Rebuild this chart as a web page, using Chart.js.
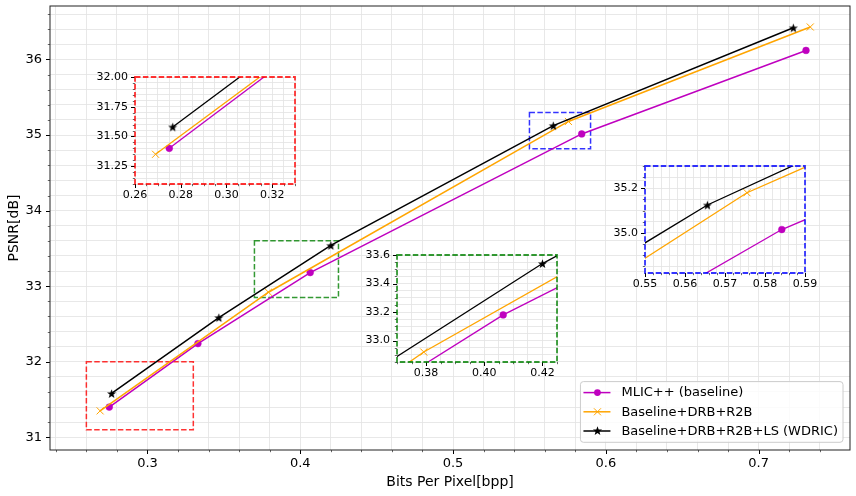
<!DOCTYPE html>
<html>
<head>
<meta charset="utf-8">
<title>PSNR vs Bits Per Pixel</title>
<script src="https://cdn.jsdelivr.net/npm/chart.js@4/dist/chart.umd.min.js"></script>
<style>
    html, body { margin: 0; padding: 0; background: #fff; }
    #wrap { position: relative; width: 856px; height: 496px; overflow: hidden; }
    #wrap canvas { position: absolute; }
</style>
</head>
<body>
<div id="wrap">
    <canvas id="mainChart"></canvas>
    <canvas id="insetRed"></canvas>
    <canvas id="insetGreen"></canvas>
    <canvas id="insetBlue"></canvas>
</div>
<script>
'use strict';

// ---- data ----
var seriesLabels = ['MLIC++ (baseline)', 'Baseline+DRB+R2B', 'Baseline+DRB+R2B+LS (WDRIC)'];

var mlicBpp = [0.275, 0.333, 0.4065, 0.5842, 0.731];
var mlicPsnr = [31.40, 32.24, 33.18, 35.015, 36.12];

var drbBpp = [0.269, 0.3792, 0.5755, 0.7338];
var drbPsnr = [31.35, 32.92, 35.18, 36.43];

var wdricBpp = [0.2765, 0.3467, 0.420, 0.5656, 0.7227];
var wdricPsnr = [31.58, 32.585, 33.54, 35.125, 36.42];

// main axes
var mainXRange = [0.2362, 0.7598];
var mainYRange = [30.832, 36.708];
var mainXTicks = [0.3, 0.4, 0.5, 0.6, 0.7];
var mainXLabels = ['0.3', '0.4', '0.5', '0.6', '0.7'];
var mainYTicks = [31, 32, 33, 34, 35, 36];
var mainYLabels = ['31', '32', '33', '34', '35', '36'];

// zoom windows: [xmin, xmax, ymin, ymax]
var redWindow = [0.26, 0.33, 31.1, 32.0];
var greenWindow = [0.37, 0.425, 32.85, 33.6];
var blueWindow = [0.55, 0.59, 34.82, 35.3];

var redXTicks = [0.26, 0.28, 0.30, 0.32];
var redXLabels = ['0.26', '0.28', '0.30', '0.32'];
var redYTicks = [31.25, 31.5, 31.75, 32.0];
var redYLabels = ['31.25', '31.50', '31.75', '32.00'];

var greenXTicks = [0.38, 0.40, 0.42];
var greenXLabels = ['0.38', '0.40', '0.42'];
var greenYTicks = [33.0, 33.2, 33.4, 33.6];
var greenYLabels = ['33.0', '33.2', '33.4', '33.6'];

var blueXTicks = [0.55, 0.56, 0.57, 0.58, 0.59];
var blueXLabels = ['0.55', '0.56', '0.57', '0.58', '0.59'];
var blueYTicks = [35.0, 35.2];
var blueYLabels = ['35.0', '35.2'];

// ---- styling ----
var FONT = 'DejaVu Sans';
var MAGENTA = '#bf00bf';
var ORANGE = '#ffa500';
var GRID = '#e2e2e2';

// little filled star, used as the point style of the WDRIC line
function starPath(ctx, cx, cy, outer, inner) {
    ctx.beginPath();
    for (var i = 0; i < 10; i++) {
        var r = (i % 2 === 0) ? outer : inner;
        var a = -Math.PI / 2 + i * Math.PI / 5;
        var px = cx + r * Math.cos(a);
        var py = cy + r * Math.sin(a);
        if (i === 0) {
            ctx.moveTo(px, py);
        } else {
            ctx.lineTo(px, py);
        }
    }
    ctx.closePath();
}

var starImage = (function() {
    var c = document.createElement('canvas');
    c.width = 11;
    c.height = 11;
    var g = c.getContext('2d');
    g.fillStyle = '#000';
    starPath(g, 5.5, 6, 4.8, 2);
    g.fill();
    return c;
})();

function points(xs, ys) {
    return xs.map(function(x, i) {
        return { x: x, y: ys[i] };
    });
}

function buildDatasets(lineWidth) {
    return [{
        label: seriesLabels[0],
        data: points(mlicBpp, mlicPsnr),
        borderColor: MAGENTA,
        backgroundColor: MAGENTA,
        borderWidth: lineWidth,
        pointStyle: 'circle',
        pointRadius: 3.4,
        pointBorderWidth: 0.5,
        order: 3
    }, {
        label: seriesLabels[1],
        data: points(drbBpp, drbPsnr),
        borderColor: ORANGE,
        backgroundColor: ORANGE,
        borderWidth: lineWidth,
        pointStyle: 'crossRot',
        pointRadius: 5,
        pointBorderWidth: 1,
        order: 2
    }, {
        label: seriesLabels[2],
        data: points(wdricBpp, wdricPsnr),
        borderColor: '#000',
        backgroundColor: '#000',
        borderWidth: lineWidth,
        pointStyle: starImage,
        pointRadius: 4,
        order: 1
    }];
}

// all tick positions (major + minor) between min and max
function stepValues(min, max, step) {
    var out = [];
    for (var k = Math.ceil(min / step - 1e-9); k * step <= max + 1e-9; k++) {
        out.push(+(k * step).toFixed(6));
    }
    return out;
}

function labelFor(value, majors, labels) {
    for (var i = 0; i < majors.length; i++) {
        if (Math.abs(majors[i] - value) < 1e-7) {
            return labels[i];
        }
    }
    return '';
}

function linearAxis(cfg) {
    var values = stepValues(cfg.min, cfg.max, cfg.minor);
    var axis = {
        type: 'linear',
        position: cfg.position,
        min: cfg.min,
        max: cfg.max,
        border: { display: false },
        grid: { color: GRID, lineWidth: 0.8, drawTicks: false },
        ticks: {
            autoSkip: false,
            maxRotation: 0,
            padding: cfg.padding,
            color: '#000',
            font: { family: FONT, size: cfg.fontSize },
            callback: function(value) {
                return labelFor(value, cfg.majors, cfg.labels);
            }
        },
        afterBuildTicks: function(scale) {
            scale.ticks = values.map(function(v) {
                return { value: v };
            });
        },
        afterFit: function(scale) {
            if (cfg.position === 'left') {
                scale.width = cfg.size;
            } else {
                scale.height = cfg.size;
            }
            scale.paddingLeft = 0;
            scale.paddingRight = 0;
            scale.paddingTop = 0;
            scale.paddingBottom = 0;
        }
    };
    if (cfg.title) {
        axis.title = {
            display: true,
            text: cfg.title,
            color: '#000',
            font: { family: FONT, size: 14 },
            padding: cfg.titlePadding
        };
    }
    return axis;
}

// draws the frame, the tick marks and (main only) the zoom boxes and legend
function decorPlugin(opts) {
    function line(ctx, x1, y1, x2, y2) {
        ctx.beginPath();
        ctx.moveTo(x1, y1);
        ctx.lineTo(x2, y2);
        ctx.stroke();
    }

    return {
        id: 'decor',
        beforeDraw: function(chart) {
            var a = chart.chartArea;
            var ctx = chart.ctx;
            ctx.save();
            ctx.fillStyle = '#fff';
            ctx.fillRect(a.left, a.top, a.right - a.left, a.bottom - a.top);
            ctx.restore();
        },
        beforeDatasetsDraw: function(chart) {
            if (!opts.boxes) {
                return;
            }
            var ctx = chart.ctx;
            var xs = chart.scales.x;
            var ys = chart.scales.y;
            ctx.save();
            ctx.lineWidth = 1.5;
            ctx.setLineDash([5.5, 2.4]);
            opts.boxes.forEach(function(b) {
                var x1 = xs.getPixelForValue(b.win[0]);
                var x2 = xs.getPixelForValue(b.win[1]);
                var y1 = ys.getPixelForValue(b.win[3]);
                var y2 = ys.getPixelForValue(b.win[2]);
                ctx.strokeStyle = b.color;
                ctx.strokeRect(x1, y1, x2 - x1, y2 - y1);
            });
            ctx.restore();
        },
        afterDatasetsDraw: function(chart) {
            var ctx = chart.ctx;
            var a = chart.chartArea;
            var xs = chart.scales.x;
            var ys = chart.scales.y;

            ctx.save();
            // tick marks
            ctx.strokeStyle = '#000';
            ctx.lineWidth = 0.6;
            stepValues(xs.min, xs.max, opts.xMinor).forEach(function(v) {
                var px = Math.round(xs.getPixelForValue(v)) + 0.5;
                line(ctx, px, a.bottom, px, a.bottom + 2.2);
            });
            stepValues(ys.min, ys.max, opts.yMinor).forEach(function(v) {
                var py = Math.round(ys.getPixelForValue(v)) + 0.5;
                line(ctx, a.left, py, a.left - 2.2, py);
            });
            ctx.lineWidth = 1;
            opts.xMajor.forEach(function(v) {
                var px = Math.round(xs.getPixelForValue(v)) + 0.5;
                line(ctx, px, a.bottom, px, a.bottom + 4);
            });
            opts.yMajor.forEach(function(v) {
                var py = Math.round(ys.getPixelForValue(v)) + 0.5;
                line(ctx, a.left, py, a.left - 4, py);
            });

            // frame
            if (opts.frameColor) {
                ctx.strokeStyle = opts.frameColor;
                ctx.lineWidth = 1.8;
                ctx.setLineDash([5.5, 2.4]);
            } else {
                ctx.strokeStyle = '#222';
                ctx.lineWidth = 1;
            }
            ctx.strokeRect(a.left, a.top, a.right - a.left, a.bottom - a.top);
            ctx.restore();
        },
        afterDraw: function(chart) {
            if (opts.legend) {
                drawLegend(chart);
            }
        }
    };
}

function drawLegend(chart) {
    var ctx = chart.ctx;
    var a = chart.chartArea;
    var rowH = 19.2;
    ctx.save();
    ctx.font = '13px "' + FONT + '"';
    var textW = 0;
    seriesLabels.forEach(function(t) {
        textW = Math.max(textW, ctx.measureText(t).width);
    });
    var w = 41 + textW + 5;
    var h = 22.3 + rowH * (seriesLabels.length - 1);
    var right = a.right - 7;
    var bottom = a.bottom - 7.7;
    var left = right - w;
    var top = bottom - h;

    ctx.beginPath();
    ctx.roundRect(left, top, w, h, 3);
    ctx.fillStyle = 'rgba(255,255,255,0.8)';
    ctx.fill();
    ctx.strokeStyle = '#cccccc';
    ctx.lineWidth = 1;
    ctx.stroke();

    var colors = [MAGENTA, ORANGE, '#000'];
    ctx.textBaseline = 'middle';
    for (var i = 0; i < seriesLabels.length; i++) {
        var y = top + 11 + i * rowH;
        var mx = left + 17;
        ctx.strokeStyle = colors[i];
        ctx.fillStyle = colors[i];
        ctx.lineWidth = 1.5;
        ctx.beginPath();
        ctx.moveTo(left + 3, y);
        ctx.lineTo(left + 30, y);
        ctx.stroke();
        if (i === 0) {
            ctx.beginPath();
            ctx.arc(mx, y, 3.4, 0, Math.PI * 2);
            ctx.fill();
        } else if (i === 1) {
            ctx.lineWidth = 1;
            ctx.beginPath();
            ctx.moveTo(mx - 3.5, y - 3.5);
            ctx.lineTo(mx + 3.5, y + 3.5);
            ctx.moveTo(mx - 3.5, y + 3.5);
            ctx.lineTo(mx + 3.5, y - 3.5);
            ctx.stroke();
        } else {
            ctx.drawImage(starImage, mx - 5.5, y - 6);
        }
        ctx.fillStyle = '#000';
        ctx.fillText(seriesLabels[i], left + 41, y + 0.5);
    }
    ctx.restore();
}

function placeCanvas(id, left, top, width, height) {
    var c = document.getElementById(id);
    c.width = width;
    c.height = height;
    c.style.left = left + 'px';
    c.style.top = top + 'px';
    c.style.width = width + 'px';
    c.style.height = height + 'px';
    return c;
}

// ---- main chart ----
function initMain() {
    var c = placeCanvas('mainChart', 0, 0, 856, 496);
    new Chart(c, {
        type: 'scatter',
        data: { datasets: buildDatasets(1.5) },
        options: {
            responsive: false,
            animation: false,
            showLine: true,
            layout: { padding: { left: 0, top: 6, right: 6, bottom: 0 } },
            plugins: { legend: { display: false }, tooltip: { enabled: false } },
            scales: {
                x: linearAxis({
                    position: 'bottom', min: mainXRange[0], max: mainXRange[1], minor: 0.02,
                    majors: mainXTicks, labels: mainXLabels, size: 46, padding: 6, fontSize: 13,
                    title: 'Bits Per Pixel[bpp]', titlePadding: { top: 0, bottom: 5 }
                }),
                y: linearAxis({
                    position: 'left', min: mainYRange[0], max: mainYRange[1], minor: 0.2,
                    majors: mainYTicks, labels: mainYLabels, size: 50, padding: 8, fontSize: 13,
                    title: 'PSNR[dB]', titlePadding: { top: 5.5, bottom: 0 }
                })
            }
        },
        plugins: [decorPlugin({
            xMajor: mainXTicks, yMajor: mainYTicks, xMinor: 0.02, yMinor: 0.2,
            legend: true,
            boxes: [
                { win: redWindow, color: 'rgba(255,0,0,0.8)' },
                { win: greenWindow, color: 'rgba(0,128,0,0.8)' },
                { win: blueWindow, color: 'rgba(0,0,255,0.8)' }
            ]
        })]
    });
}

// ---- zoomed insets ----
function initInset(cfg) {
    var padTop = 8, padRight = 16, yW = 50, xH = 24;
    var c = placeCanvas(cfg.id, cfg.left - yW, cfg.top - padTop,
        yW + cfg.width + padRight, padTop + cfg.height + xH);
    new Chart(c, {
        type: 'scatter',
        data: { datasets: buildDatasets(1.3) },
        options: {
            responsive: false,
            animation: false,
            showLine: true,
            layout: { padding: { left: 0, top: padTop, right: padRight, bottom: 0 } },
            plugins: { legend: { display: false }, tooltip: { enabled: false } },
            scales: {
                x: linearAxis({
                    position: 'bottom', min: cfg.win[0], max: cfg.win[1], minor: cfg.xMinor,
                    majors: cfg.xTicks, labels: cfg.xLabels, size: xH, padding: 5, fontSize: 11
                }),
                y: linearAxis({
                    position: 'left', min: cfg.win[2], max: cfg.win[3], minor: cfg.yMinor,
                    majors: cfg.yTicks, labels: cfg.yLabels, size: yW, padding: 7, fontSize: 11
                })
            }
        },
        plugins: [decorPlugin({
            xMajor: cfg.xTicks, yMajor: cfg.yTicks, xMinor: cfg.xMinor, yMinor: cfg.yMinor,
            frameColor: cfg.color
        })]
    });
}

initMain();
initInset({
    id: 'insetRed', left: 135, top: 77, width: 160, height: 107, win: redWindow,
    xTicks: redXTicks, xLabels: redXLabels, yTicks: redYTicks, yLabels: redYLabels,
    xMinor: 0.005, yMinor: 0.05, color: 'rgba(255,0,0,0.8)'
});
initInset({
    id: 'insetGreen', left: 397, top: 255, width: 160, height: 107, win: greenWindow,
    xTicks: greenXTicks, xLabels: greenXLabels, yTicks: greenYTicks, yLabels: greenYLabels,
    xMinor: 0.005, yMinor: 0.05, color: 'rgba(0,128,0,0.8)'
});
initInset({
    id: 'insetBlue', left: 645, top: 166, width: 160, height: 107, win: blueWindow,
    xTicks: blueXTicks, xLabels: blueXLabels, yTicks: blueYTicks, yLabels: blueYLabels,
    xMinor: 0.002, yMinor: 0.05, color: 'rgba(0,0,255,0.8)'
});
</script>
</body>
</html>
